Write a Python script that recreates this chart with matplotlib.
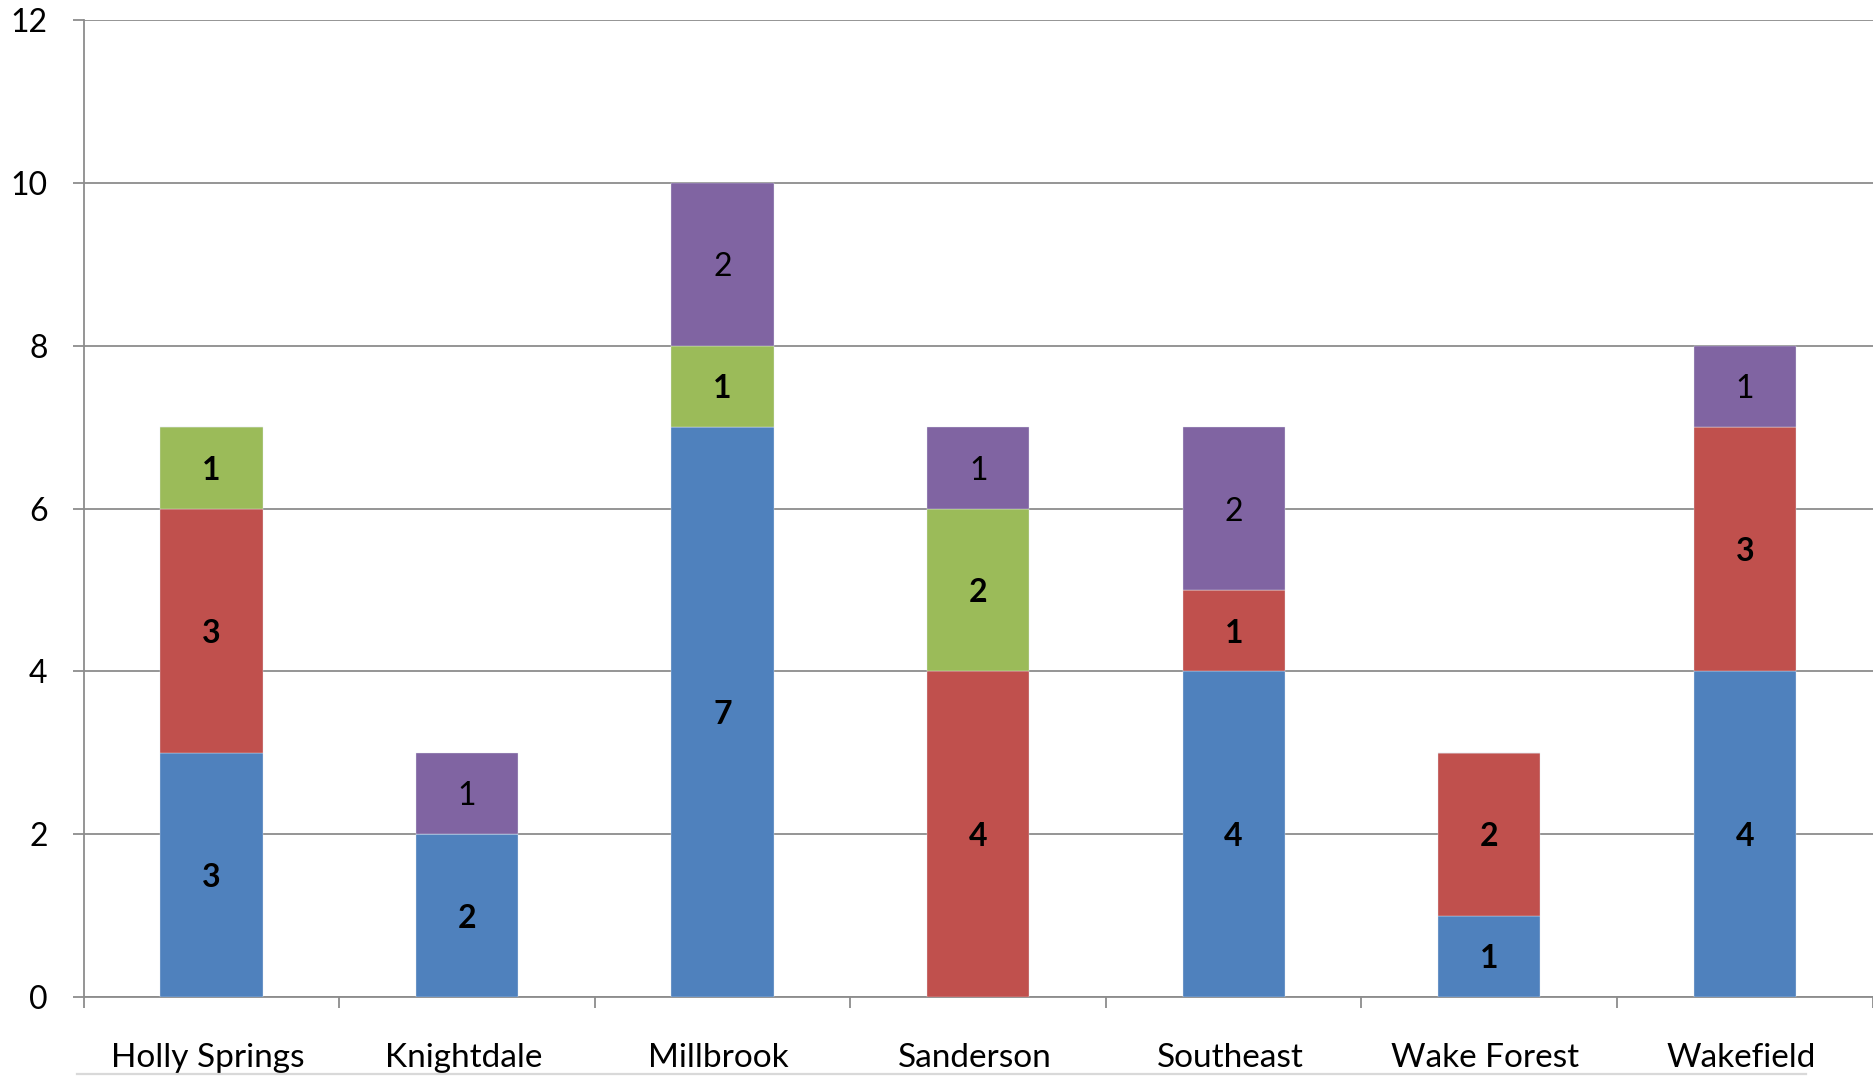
import matplotlib
matplotlib.use("Agg")
import matplotlib.pyplot as plt
import numpy as np

plt.rcParams['font.family'] = ['Lato', 'DejaVu Sans']

schools = ["Holly Springs", "Knightdale", "Millbrook", "Sanderson",
           "Southeast", "Wake Forest", "Wakefield"]

blue_vals = [3, 2, 7, 0, 4, 1, 4]
red_vals = [3, 0, 0, 4, 1, 2, 3]
green_vals = [1, 0, 1, 2, 0, 0, 0]
purple_vals = [0, 1, 2, 1, 2, 0, 1]

series = [
    (blue_vals, "#4F81BD", "bold"),
    (red_vals, "#C0504D", "bold"),
    (green_vals, "#9BBB59", "bold"),
    (purple_vals, "#8064A2", "normal"),
]

y_ticks = [0, 2, 4, 6, 8, 10, 12]

fig = plt.figure(figsize=(18.74, 10.76), dpi=100)
ax = fig.add_axes([0.0447, 0.0734, 0.9545, 0.908])

x = np.arange(len(schools))
bottom = np.zeros(len(schools))
for vals, color, weight in series:
    vals = np.array(vals, dtype=float)
    ax.bar(x, vals, width=0.40, bottom=bottom, color=color,
           edgecolor="#e6ebf2", linewidth=0.25, zorder=3)
    for xi, b, v in zip(x, bottom, vals):
        if v > 0:
            ax.text(xi, b + v / 2, f"{int(v)}", ha="center",
                    va="center_baseline", fontsize=23, fontweight=weight,
                    color="black", zorder=4)
    bottom += vals

ax.set_ylim(0, 12)
ax.set_xlim(-0.5, len(schools) - 0.5)
ax.set_yticks(y_ticks)
ax.set_yticklabels([str(t) for t in y_ticks], fontsize=23)
ax.yaxis.grid(True, color="#8c8c8c", linewidth=1.3, zorder=0)
ax.set_axisbelow(True)

# category boundaries as tick marks, names centred between them
ax.set_xticks(np.arange(-0.5, len(schools), 1.0))
ax.set_xticklabels([])
ax.set_xticks(x - 0.015, minor=True)
ax.set_xticklabels(schools, minor=True, fontsize=24)
ax.tick_params(axis="x", which="major", length=8, width=1.3, color="#8c8c8c",
               direction="out")
ax.tick_params(axis="x", which="minor", length=0, pad=33)
ax.tick_params(axis="y", length=8, width=1.3, color="#8c8c8c", pad=18)

for side in ("top", "right"):
    ax.spines[side].set_visible(False)
for side in ("left", "bottom"):
    ax.spines[side].set_color("#8c8c8c")
    ax.spines[side].set_linewidth(1.3)

# light rule along the bottom edge of the figure
fig.add_artist(plt.Line2D([77 / 1874, 1806 / 1874], [1 - 1074 / 1076] * 2,
                          color="#d9d9d9", linewidth=1.6,
                          transform=fig.transFigure))

fig.savefig("out.png", dpi=100, facecolor="white")
